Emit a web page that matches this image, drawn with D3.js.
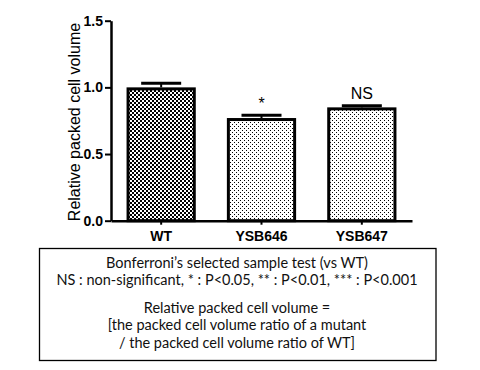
<!doctype html>
<html>
<head>
    <meta charset="UTF-8">
    <title>Relative packed cell volume</title>
    <script src="https://d3js.org/d3.v7.min.js"></script>
    <style>
        body { margin: 0; background: #fff; }
    </style>
</head>
<body>
    <svg width="480" height="370" id="chart"></svg>
<script>
// values
var strains = ["WT", "YSB646", "YSB647"];
var volumes = [1.00, 0.77, 0.85];
var errors = [0.03, 0.02, 0.012];
var marks = ["", "*", "NS"];
var yTicks = [0, 0.5, 1.0, 1.5];
var notes = [
    "Bonferroni\u2019s selected sample test (vs WT)",
    "NS : non-significant, * : P<0.05, ** : P<0.01, *** : P<0.001",
    "Relative packed cell volume =",
    "[the packed cell volume ratio of a mutant",
    "/ the packed cell volume ratio of WT]"
];

var svg = d3.select("#chart");

var x = d3.scaleBand().domain(strains).range([111, 412]).paddingInner(0.31).paddingOuter(0.155);
var y = d3.scaleLinear().domain([0, 1.5]).range([220.7, 20.7]);

// fill patterns
var defs = svg.append("defs");
var checker = defs.append("pattern").attr("id", "checker")
    .attr("patternUnits", "userSpaceOnUse").attr("width", 4).attr("height", 4);
checker.append("rect").attr("width", 4).attr("height", 4).attr("fill", "#fff");
checker.append("rect").attr("width", 2).attr("height", 2).attr("fill", "#000");
checker.append("rect").attr("x", 2).attr("y", 2).attr("width", 2).attr("height", 2).attr("fill", "#000");

var dots = defs.append("pattern").attr("id", "dots")
    .attr("patternUnits", "userSpaceOnUse").attr("width", 4).attr("height", 4);
dots.append("rect").attr("width", 4).attr("height", 4).attr("fill", "#fff");
dots.append("rect").attr("width", 1).attr("height", 1).attr("fill", "#000");
dots.append("rect").attr("x", 2).attr("y", 2).attr("width", 1).attr("height", 1).attr("fill", "#000");

// error bars
strains.forEach(function(s, i) {
    var cx = x(s) + x.bandwidth() / 2;
    svg.append("line").attr("x1", cx).attr("x2", cx)
        .attr("y1", y(volumes[i])).attr("y2", y(volumes[i] + errors[i]))
        .attr("stroke", "#000").attr("stroke-width", 2);
    svg.append("line").attr("x1", cx - 20).attr("x2", cx + 20)
        .attr("y1", y(volumes[i] + errors[i])).attr("y2", y(volumes[i] + errors[i]))
        .attr("stroke", "#000").attr("stroke-width", 3);
});

// bars
svg.selectAll("rect.bar").data(strains).enter().append("rect")
    .attr("class", "bar")
    .attr("x", function(d) { return x(d) + 1.5; })
    .attr("y", function(d, i) { return y(volumes[i]) + 1.5; })
    .attr("width", x.bandwidth() - 3)
    .attr("height", function(d, i) { return y(0) - y(volumes[i]) - 1.5; })
    .attr("fill", function(d, i) { return i === 0 ? "url(#checker)" : "url(#dots)"; })
    .attr("stroke", "#000").attr("stroke-width", 3);

// significance marks
svg.selectAll("text.mark").data(strains).enter().append("text")
    .attr("class", "mark")
    .attr("x", function(d) { return x(d) + x.bandwidth() / 2; })
    .attr("y", function(d, i) { return y(volumes[i] + errors[i]) - 6.5; })
    .attr("text-anchor", "middle")
    .attr("font-family", "Liberation Sans, Arial, sans-serif")
    .attr("font-size", 16)
    .text(function(d, i) { return marks[i]; });

// axes
var yAxis = svg.append("g").attr("transform", "translate(111,0)")
    .call(d3.axisLeft(y).tickValues(yTicks).tickFormat(d3.format(".1f")).tickSize(6).tickSizeOuter(0).tickPadding(2));
var xAxis = svg.append("g").attr("transform", "translate(0," + y(0) + ")")
    .call(d3.axisBottom(x).tickSize(4).tickSizeOuter(0).tickPadding(6));

[yAxis, xAxis].forEach(function(a) {
    a.select(".domain").attr("stroke", "#000").attr("stroke-width", 2.5);
    a.selectAll(".tick line").attr("stroke", "#000").attr("stroke-width", 2);
    a.selectAll("text").attr("fill", "#000")
        .attr("font-family", "Liberation Sans, Arial, sans-serif")
        .attr("font-weight", "bold").attr("font-size", 14);
});

svg.append("text")
    .attr("transform", "translate(80,122) rotate(-90)")
    .attr("text-anchor", "middle")
    .attr("font-family", "Liberation Sans, Arial, sans-serif")
    .attr("font-size", 16)
    .text("Relative packed cell volume");

// note box
svg.append("rect").attr("x", 39.5).attr("y", 248.5).attr("width", 396.5).attr("height", 112)
    .attr("fill", "none").attr("stroke", "#000").attr("stroke-width", 1.3);

var noteY = [268, 285, 312.5, 330, 348];
svg.selectAll("text.note").data(notes).enter().append("text")
    .attr("class", "note")
    .attr("x", 237)
    .attr("y", function(d, i) { return noteY[i]; })
    .attr("text-anchor", "middle")
    .attr("font-family", "Lato, Open Sans, sans-serif")
    .attr("font-size", 14.5)
    .attr("fill", "#111")
    .text(function(d) { return d; });
</script>
</body>
</html>
